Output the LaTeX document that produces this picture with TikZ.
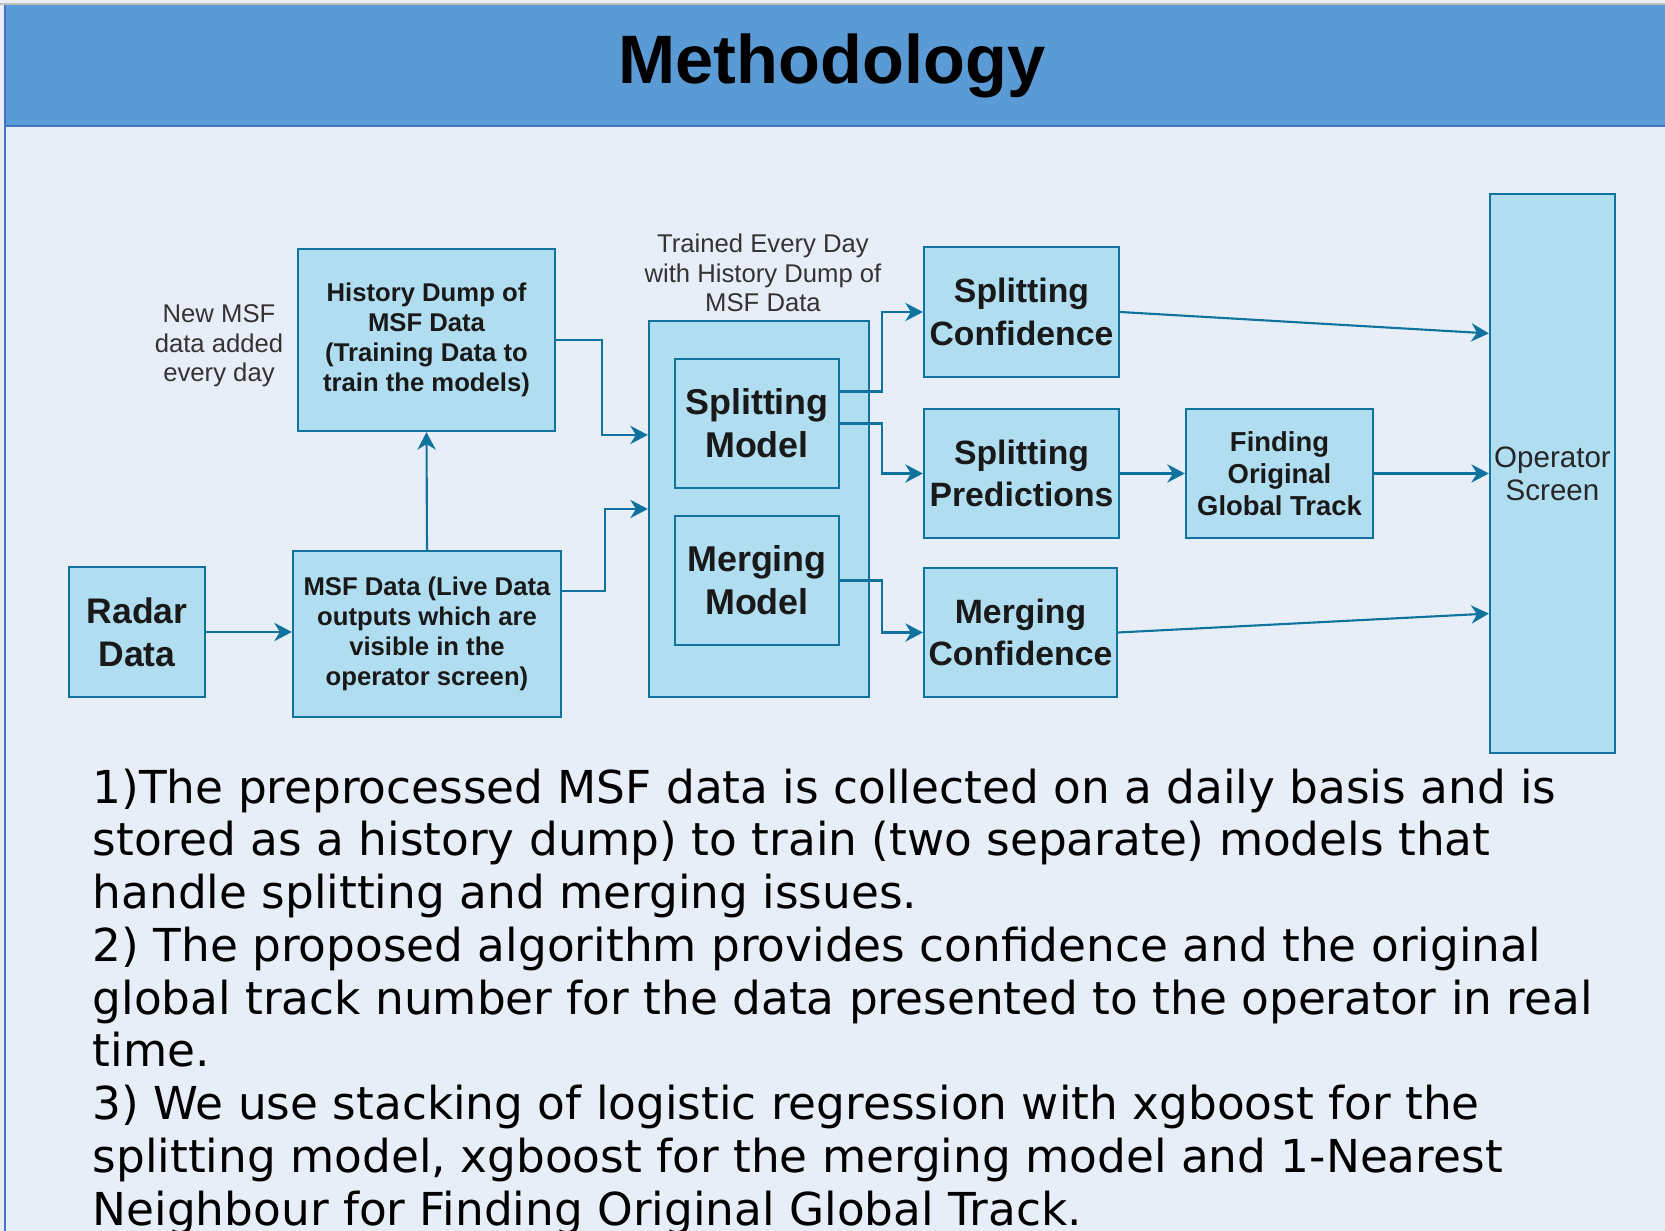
\documentclass[tikz,border=0pt]{standalone}
\usepackage{fontspec}
\setmainfont{Liberation Sans}
\newfontfamily\parafont{DejaVu Sans}
\usepackage{xcolor}
\usepackage{tikz}
\usetikzlibrary{arrows.meta, positioning, calc}
\definecolor{pageColor}{HTML}{E8EEF7}
\definecolor{bandColor}{HTML}{5B9BD5}
\definecolor{edgeColor}{HTML}{4472C4}
\definecolor{boxFill}{HTML}{B1DDF0}
\definecolor{boxLine}{HTML}{10739E}
\definecolor{noteColor}{HTML}{333333}
\newcommand{\fsz}[2]{\fontsize{#1}{#2}\selectfont}

\begin{document}
\begin{tikzpicture}[x=0.01cm, y=-0.01cm, >={Stealth[length=5pt, width=5.2pt, inset=1.6pt]},
    blk/.style={draw=boxLine, fill=boxFill, line width=0.6pt, inner sep=0pt, align=center, text=black!90},
    note/.style={align=center, inner sep=0pt, text=noteColor, font=\fsz{7.3}{8.4}},
    conn/.style={->, draw=boxLine, line width=0.6pt}]
        % Page and title band
        \clip (0,0) rectangle (1665,1231);
        \fill[pageColor] (0,0) rectangle (1665,1231);
        \fill[bandColor] (5,5) rectangle (1665,126);
        \draw[edgeColor, line width=0.5pt] (5,126) -- (1665,126);
        \draw[edgeColor, line width=0.5pt] (5,5) -- (5,1231);
        \draw[black!25, line width=0.5pt] (0,4) -- (1665,4);
        \node[font=\bfseries\fsz{19.5}{23}] (title) at (832,66) {Methodology};

        % Inputs (radar, live data, history dump)
        \node[blk, minimum width=1.36cm, minimum height=1.30cm, font=\bfseries\fsz{10.1}{12.2}] (radar) at (137,632) {Radar\\Data};
        \node[blk, minimum width=2.68cm, minimum height=1.66cm, font=\bfseries\fsz{7.3}{8.5}] (msf) at (427,634) {MSF Data (Live Data\\outputs which are\\visible in the\\operator screen)};
        \node[blk, minimum width=2.57cm, minimum height=1.82cm, font=\bfseries\fsz{7.3}{8.5}] (hist) at (426.5,340) {History Dump of\\MSF Data\\(Training Data to\\train the models)};
        \node[note] (newmsf) at (219,346) {New MSF\\data added\\every day};

        % Models (outer box with the two models)
        \node[blk, minimum width=2.20cm, minimum height=3.76cm] (models) at (759,509) {};
        \node[blk, minimum width=1.64cm, minimum height=1.29cm, font=\bfseries\fsz{10.2}{12.2}] (split) at (757,423.5) {Splitting\\Model};
        \node[blk, minimum width=1.64cm, minimum height=1.29cm, font=\bfseries\fsz{10.2}{12.2}] (merge) at (757,580.5) {Merging\\Model};
        \node[note] (trained) at (763,273) {Trained Every Day\\with History Dump of\\MSF Data};

        % Outputs
        \node[blk, minimum width=1.95cm, minimum height=1.30cm, font=\bfseries\fsz{9.6}{12}] (sconf) at (1021.5,312) {Splitting\\Confidence};
        \node[blk, minimum width=1.95cm, minimum height=1.29cm, font=\bfseries\fsz{9.6}{12}] (spred) at (1021.5,473.5) {Splitting\\Predictions};
        \node[blk, minimum width=1.93cm, minimum height=1.29cm, font=\bfseries\fsz{9.6}{12}] (mconf) at (1020.5,632.5) {Merging\\Confidence};
        \node[blk, minimum width=1.87cm, minimum height=1.29cm, font=\bfseries\fsz{7.8}{9.1}] (find) at (1279.5,473.5) {Finding\\Original\\Global Track};
        \node[blk, minimum width=1.25cm, minimum height=5.59cm, font=\fsz{8.4}{9.4}, text=black!85] (oper) at (1552.5,473.5) {Operator\\Screen};

        % Flow
        \draw[conn] (radar.east) -- (radar.east -| msf.west);
        \draw[conn] (msf.north) -- (hist.south);
        \draw[conn] (hist.east) -- ++(46,0) |- ([yshift=0.74cm]models.west);
        \draw[conn] ([yshift=0.43cm]msf.east) -- ++(43,0) |- (models.west);
        \draw[conn] ([yshift=0.32cm]split.east) -- ++(42,0) |- (sconf.west);
        \draw[conn] (split.east) -- ++(42,0) |- (spred.west);
        \draw[conn] (merge.east) -- ++(42,0) |- (mconf.west);
        \draw[conn] (sconf.east) -- ([yshift=1.40cm]oper.west);
        \draw[conn] (spred.east) -- (find.west);
        \draw[conn] (find.east) -- (oper.west);
        \draw[conn] (mconf.east) -- ([yshift=-1.40cm]oper.west);

        % Description
        \node[anchor=north west, align=left, inner sep=0pt, font=\parafont\fsz{12.9}{15}] (desc) at (92,768) {1)The preprocessed MSF data is collected on a daily basis and is\\stored as a history dump) to train (two separate) models that\\handle splitting and merging issues.\\2) The proposed algorithm provides confidence and the original\\global track number for the data presented to the operator in real\\time.\\3) We use stacking of logistic regression with xgboost for the\\splitting model, xgboost for the merging model and 1-Nearest\\Neighbour for Finding Original Global Track.};
    \end{tikzpicture}
\end{document}
